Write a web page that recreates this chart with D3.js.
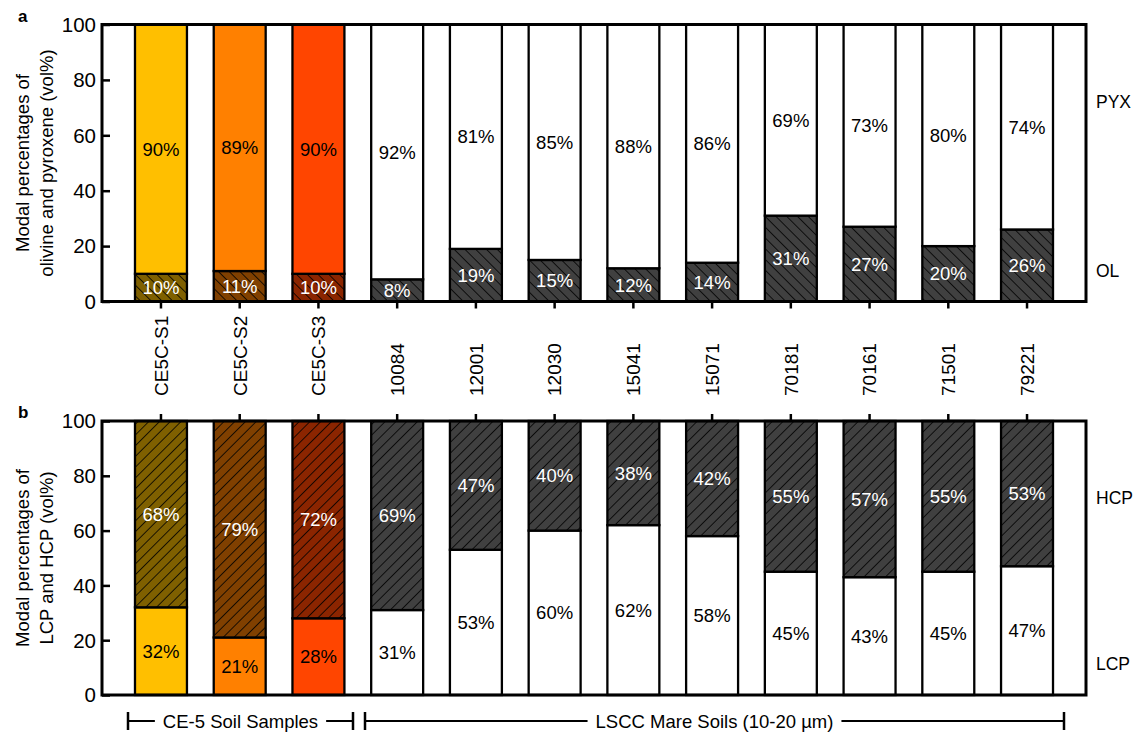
<!DOCTYPE html>
<html>
<head>
<meta charset="utf-8">
<script src="https://cdn.jsdelivr.net/npm/d3@7"></script>
<style>
  html, body { margin: 0; padding: 0; background: #fff; }
  svg { display: block; font-family: "Liberation Sans", Arial, sans-serif; }
</style>
</head>
<body>
<svg id="chart" width="1137" height="734"></svg>
<script>
// Sample names (shared by both panels)
const samples = ["CE5C-S1", "CE5C-S2", "CE5C-S3", "10084", "12001", "12030",
                 "15041", "15071", "70181", "70161", "71501", "79221"];

// Panel a: olivine (OL) and pyroxene (PYX), vol%
const olValues  = [10, 11, 10, 8, 19, 15, 12, 14, 31, 27, 20, 26];
const pyxValues = [90, 89, 90, 92, 81, 85, 88, 86, 69, 73, 80, 74];

// Panel b: low-Ca (LCP) and high-Ca (HCP) pyroxene, vol%
const lcpValues = [32, 21, 28, 31, 53, 60, 62, 58, 45, 43, 45, 47];
const hcpValues = [68, 79, 72, 69, 47, 40, 38, 42, 55, 57, 55, 53];

const yTicks = [0, 20, 40, 60, 80, 100];

// Fill colours: CE-5 samples get their own light/dark pair, lunar soils are white/dark grey
const lightFill = ["#FFBF00", "#FF8000", "#FF4500", "#FFFFFF", "#FFFFFF", "#FFFFFF",
                   "#FFFFFF", "#FFFFFF", "#FFFFFF", "#FFFFFF", "#FFFFFF", "#FFFFFF"];
const darkFill  = ["#7F6000", "#804000", "#8B2500", "#404040", "#404040", "#404040",
                   "#404040", "#404040", "#404040", "#404040", "#404040", "#404040"];

const groups = [
  { label: "CE-5 Soil Samples", x0: 128, x1: 353 },
  { label: "LSCC Mare Soils (10-20 \u00b5m)", x0: 365, x1: 1064 }
];

const svg = d3.select("#chart");
const defs = svg.append("defs");

// Hatch patterns: "\" for panel a, "/" for panel b
function hatch(id, color, angle) {
  const p = defs.append("pattern")
    .attr("id", id)
    .attr("patternUnits", "userSpaceOnUse")
    .attr("width", 7.6).attr("height", 7.6)
    .attr("patternTransform", `rotate(${angle})`);
  p.append("rect").attr("width", 7.6).attr("height", 7.6).attr("fill", color);
  p.append("line").attr("x1", 0).attr("y1", -1).attr("x2", 0).attr("y2", 9)
    .attr("stroke", "#000").attr("stroke-width", 1.6);
}
darkFill.forEach((c, i) => {
  hatch(`hA${i}`, c, -45);
  hatch(`hB${i}`, c, 45);
});

const frameX0 = 102, frameX1 = 1086;
const x = d3.scaleBand().domain(samples).range([frameX0, frameX1])
  .paddingInner(0.34).paddingOuter(0.419);

function panel(opts) {
  const { top, bottom, lower, upper, lowerFill, upperFill, lowerText, upperText,
          tickSide, title, letter, rightLabels } = opts;
  const y = d3.scaleLinear().domain([0, 100]).range([bottom, top]);
  const g = svg.append("g");

  // bars (lower segment from 0, upper segment stacked on top)
  samples.forEach((s, i) => {
    const bx = x(s), bw = x.bandwidth();
    g.append("rect")
      .attr("x", bx).attr("width", bw)
      .attr("y", y(lower[i])).attr("height", y(0) - y(lower[i]))
      .attr("fill", lowerFill(i)).attr("stroke", "#000").attr("stroke-width", 2.3);
    g.append("rect")
      .attr("x", bx).attr("width", bw)
      .attr("y", y(lower[i] + upper[i])).attr("height", y(lower[i]) - y(lower[i] + upper[i]))
      .attr("fill", upperFill(i)).attr("stroke", "#000").attr("stroke-width", 2.3);

    g.append("text")
      .attr("x", bx + bw / 2).attr("y", y(lower[i] / 2)).attr("dy", "0.36em")
      .attr("text-anchor", "middle").attr("font-size", 18.5)
      .attr("fill", lowerText).text(lower[i] + "%");
    g.append("text")
      .attr("x", bx + bw / 2).attr("y", y(lower[i] + upper[i] / 2)).attr("dy", "0.36em")
      .attr("text-anchor", "middle").attr("font-size", 18.5)
      .attr("fill", upperText).text(upper[i] + "%");
  });

  // frame
  g.append("rect")
    .attr("x", frameX0).attr("y", top)
    .attr("width", frameX1 - frameX0).attr("height", bottom - top)
    .attr("fill", "none").attr("stroke", "#000").attr("stroke-width", 3);

  // y axis: ticks pointing inward
  const yAxis = d3.axisRight(y).tickValues(yTicks).tickSize(8).tickFormat("");
  g.append("g").attr("transform", `translate(${frameX0},0)`).call(yAxis)
    .call(a => a.select(".domain").remove())
    .call(a => a.selectAll("line").attr("stroke", "#000").attr("stroke-width", 2.5));
  g.selectAll(".ylab").data(yTicks).join("text")
    .attr("x", 96).attr("y", d => y(d)).attr("dy", "0.36em")
    .attr("text-anchor", "end").attr("font-size", 20.5).text(d => d);

  // x ticks
  const xAxis = (tickSide === "bottom" ? d3.axisBottom(x) : d3.axisTop(x))
    .tickSize(7).tickFormat("");
  g.append("g").attr("transform", `translate(0,${tickSide === "bottom" ? bottom : top})`)
    .call(xAxis)
    .call(a => a.select(".domain").remove())
    .call(a => a.selectAll("line").attr("stroke", "#000").attr("stroke-width", 2.5));

  // y title
  const cy = (top + bottom) / 2;
  const t = g.append("text")
    .attr("transform", `translate(0,${cy}) rotate(-90)`)
    .attr("text-anchor", "middle").attr("font-size", 18.5);
  t.append("tspan").attr("x", 0).attr("y", 29).text(title[0]);
  t.append("tspan").attr("x", 0).attr("y", 53).text(title[1]);

  // panel letter
  g.append("text").attr("x", 18).attr("y", top - 3)
    .attr("font-size", 17).attr("font-weight", "bold").text(letter);

  // component labels on the right
  rightLabels.forEach(r => {
    g.append("text").attr("x", 1096).attr("y", y(r.v)).attr("dy", "0.36em")
      .attr("font-size", 17.5).text(r.text);
  });
}

// Panel a
panel({
  top: 24.5, bottom: 301.5,
  lower: olValues, upper: pyxValues,
  lowerFill: i => `url(#hA${i})`, upperFill: i => lightFill[i],
  lowerText: "#fff", upperText: "#000",
  tickSide: "bottom",
  title: ["Modal percentages of", "olivine and pyroxene (vol%)"],
  letter: "a",
  rightLabels: [{ v: 72, text: "PYX" }, { v: 11, text: "OL" }]
});

// Panel b
panel({
  top: 421, bottom: 695,
  lower: lcpValues, upper: hcpValues,
  lowerFill: i => lightFill[i], upperFill: i => `url(#hB${i})`,
  lowerText: "#000", upperText: "#fff",
  tickSide: "top",
  title: ["Modal percentages of", "LCP and HCP (vol%)"],
  letter: "b",
  rightLabels: [{ v: 72, text: "HCP" }, { v: 11.5, text: "LCP" }]
});

// sample names between the panels
svg.append("g").selectAll("text").data(samples).join("text")
  .attr("transform", d => `translate(${x(d) + x.bandwidth() / 2},396) rotate(-90)`)
  .attr("dy", "0.36em").attr("text-anchor", "start")
  .attr("font-size", 19).text(d => d);

// group brackets below panel b
const by = 721;
groups.forEach(gr => {
  const g = svg.append("g");
  const cx = (gr.x0 + gr.x1) / 2;
  const txt = g.append("text").attr("x", cx).attr("y", by).attr("dy", "0.36em")
    .attr("text-anchor", "middle").attr("font-size", 18.5).text(gr.label);
  const w = txt.node().getComputedTextLength();
  const gap = 8;
  g.append("line").attr("x1", gr.x0).attr("x2", cx - w / 2 - gap)
    .attr("y1", by).attr("y2", by).attr("stroke", "#000").attr("stroke-width", 2);
  g.append("line").attr("x1", cx + w / 2 + gap).attr("x2", gr.x1)
    .attr("y1", by).attr("y2", by).attr("stroke", "#000").attr("stroke-width", 2);
  [gr.x0, gr.x1].forEach(xx => {
    g.append("line").attr("x1", xx).attr("x2", xx).attr("y1", by - 9).attr("y2", by + 9)
      .attr("stroke", "#000").attr("stroke-width", 2.5);
  });
});
</script>
</body>
</html>
